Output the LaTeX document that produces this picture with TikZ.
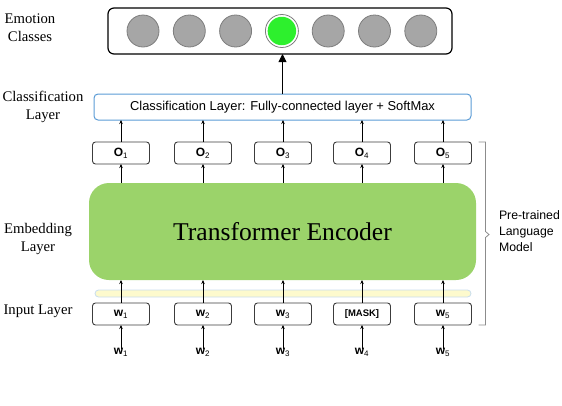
\documentclass[tikz,border=0pt]{standalone}
\usepackage{fontspec}
\setmainfont{Liberation Serif}
\setsansfont{Liberation Sans}
\definecolor{encgreen} {RGB}{155,211,106}
\definecolor{clsblue}  {RGB}{91,155,213}
\definecolor{barfill}  {RGB}{253,250,205}
\definecolor{barline}  {RGB}{200,221,238}
\definecolor{dotgray}  {RGB}{166,166,166}
\definecolor{dotline}  {RGB}{125,125,125}
\definecolor{hitgreen} {RGB}{45,240,45}
\definecolor{boxgray}  {RGB}{60,60,60}
\definecolor{bracegray}{RGB}{140,140,140}
\usepackage{tikz}
\usetikzlibrary{arrows.meta,positioning}
\newcommand{\idx}[1]{\textsubscript{\mdseries#1}}

\begin{document}
\begin{tikzpicture}[x=1pt, y=-1pt,
        every node/.style={inner sep=0pt, outer sep=0pt},
        lbl/.style={font=\rmfamily\fontsize{14.7}{18}\selectfont, align=center},
        dot/.style={circle, draw=dotline, fill=dotgray, line width=0.8pt, minimum size=32pt},
        tok/.style={rectangle, rounded corners=3pt, draw=boxgray, fill=white, line width=0.9pt,
                    minimum width=57pt, minimum height=22pt,
                    font=\sffamily\bfseries\fontsize{12}{13}\selectfont},
        inp/.style={font=\sffamily\bfseries\fontsize{12}{13}\selectfont},
        arr/.style={-{Stealth[length=4pt, width=3.5pt]}, line width=0.7pt, color=black}
      ]
        \useasboundingbox (0,0) rectangle (562,405);

        % Layer names
        \node[lbl] (lemo) at (30,28)  {Emotion\\Classes};
        \node[lbl] (lcls) at (43,107) {Classification\\Layer};
        \node[lbl] (lemb) at (38,239) {Embedding\\Layer};
        \node[lbl] (linp) at (38,311) {Input Layer};

        % Emotion classes
        \node[rectangle, rounded corners=6pt, draw=black, line width=1.2pt,
              minimum width=344pt, minimum height=46pt] (emo) at (280,31) {};
        \node[dot] (c1) at (143,31) {};
        \node[dot] (c2) at (189.3,31) {};
        \node[dot] (c3) at (235.6,31) {};
        \node[circle, draw=dotline, line width=0.8pt, minimum size=33pt] (c4) at (281.9,31) {};
        \node[circle, fill=hitgreen, minimum size=28.5pt] (hit) at (c4.center) {};
        \node[dot] (c5) at (328.2,31) {};
        \node[dot] (c6) at (374.5,31) {};
        \node[dot] (c7) at (420.8,31) {};

        % Classification layer
        \node[rectangle, rounded corners=4pt, draw=clsblue, line width=1pt,
              minimum width=377pt, minimum height=26pt,
              font=\sffamily\fontsize{12.9}{14}\selectfont] (cls) at (282.5,107)
          {Classification Layer: Fully-connected layer + SoftMax};
        \draw[-{Triangle[length=8pt, width=8pt]}, line width=0.9pt]
            (cls.north) -- (cls.north |- emo.south);

        % Outputs
        \node[tok] (o1) at (121,153) {O\idx{1}};
        \node[tok] (o2) at (203,153) {O\idx{2}};
        \node[tok] (o3) at (283,153) {O\idx{3}};
        \node[tok] (o4) at (362,153) {O\idx{4}};
        \node[tok] (o5) at (443,153) {O\idx{5}};

        % Encoder
        \node[rectangle, rounded corners=20pt, fill=encgreen,
              minimum width=387pt, minimum height=97pt,
              font=\rmfamily\fontsize{25.6}{28}\selectfont] (enc) at (282.5,231.5)
          {Transformer Encoder};

        % Embedding bar
        \node[rectangle, rounded corners=3.5pt, draw=barline, fill=barfill, line width=0.8pt,
              minimum width=376pt, minimum height=7pt] (bar) at (283,293.5) {};

        % Input tokens
        \node[tok] (w1) at (121,314) {w\idx{1}};
        \node[tok] (w2) at (203,314) {w\idx{2}};
        \node[tok] (w3) at (283,314) {w\idx{3}};
        \node[tok, font=\sffamily\bfseries\fontsize{9.5}{10}\selectfont] (w4) at (362,314) {[MASK]};
        \node[tok] (w5) at (443,314) {w\idx{5}};

        \node[inp] (x1) at (121,352) {w\idx{1}};
        \node[inp] (x2) at (203,352) {w\idx{2}};
        \node[inp] (x3) at (283,352) {w\idx{3}};
        \node[inp] (x4) at (362,352) {w\idx{4}};
        \node[inp] (x5) at (443,352) {w\idx{5}};

        % Arrows
        \draw[arr] (o1.north) -- (o1.north |- cls.south);
        \draw[arr] (o2.north) -- (o2.north |- cls.south);
        \draw[arr] (o3.north) -- (o3.north |- cls.south);
        \draw[arr] (o4.north) -- (o4.north |- cls.south);
        \draw[arr] (o5.north) -- (o5.north |- cls.south);

        \draw[arr] (o1.south |- enc.north) -- (o1.south);
        \draw[arr] (o2.south |- enc.north) -- (o2.south);
        \draw[arr] (o3.south |- enc.north) -- (o3.south);
        \draw[arr] (o4.south |- enc.north) -- (o4.south);
        \draw[arr] (o5.south |- enc.north) -- (o5.south);

        \draw[arr] (w1.north) -- (w1.north |- enc.south);
        \draw[arr] (w2.north) -- (w2.north |- enc.south);
        \draw[arr] (w3.north) -- (w3.north |- enc.south);
        \draw[arr] (w4.north) -- (w4.north |- enc.south);
        \draw[arr] (w5.north) -- (w5.north |- enc.south);

        \draw[arr] ([yshift=-1pt]x1.north) -- (w1.south);
        \draw[arr] ([yshift=-1pt]x2.north) -- (w2.south);
        \draw[arr] ([yshift=-1pt]x3.north) -- (w3.south);
        \draw[arr] ([yshift=-1pt]x4.north) -- (w4.south);
        \draw[arr] ([yshift=-1pt]x5.north) -- (w5.south);

        % Pre-trained model bracket
        \coordinate (btop) at ([xshift=7pt]o5.north east);
        \coordinate (bbot) at ([xshift=7pt]w5.south east);
        \draw[bracegray, line width=0.8pt]
            (btop) -| ([xshift=7pt]btop |- enc.center) -- ++(3.5,3) -- ++(-3.5,3) |- (bbot);
        \node[anchor=west, align=left, font=\sffamily\fontsize{12.3}{16}\selectfont] (plm)
          at (499,231) {Pre-trained\\Language\\Model};

      \end{tikzpicture}
\end{document}
